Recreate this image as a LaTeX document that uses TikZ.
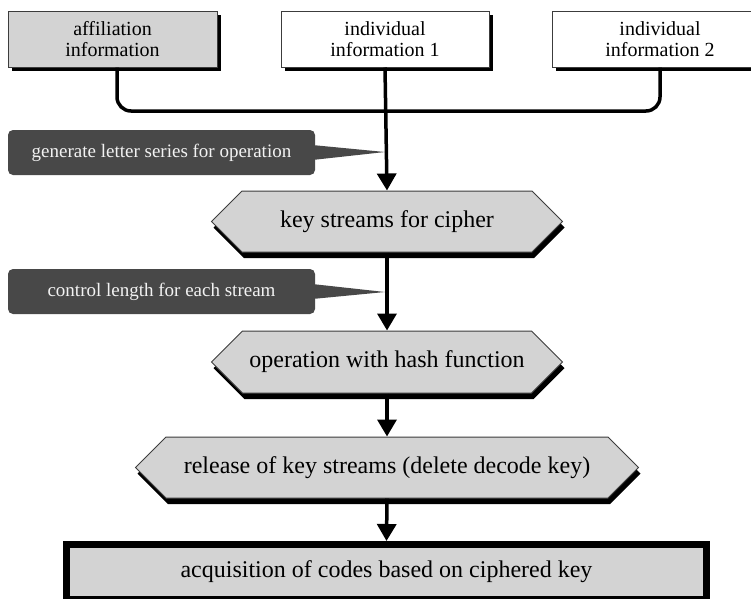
\documentclass[tikz,border=0pt]{standalone}
\usepackage{fontspec}
\setmainfont{Liberation Serif}
\usetikzlibrary{shapes.symbols,shadows,arrows.meta,calc}
\definecolor{boxgray}{RGB}{211,211,211}
\definecolor{calfill}{RGB}{72,72,72}
\definecolor{caltext}{RGB}{242,242,242}
\definecolor{edgegray}{RGB}{60,60,60}
\tikzset{
  topbox/.style={draw=edgegray, line width=1pt, minimum height=56pt, inner sep=0pt, align=center,
    font=\fontsize{20}{21.5}\selectfont,
    drop shadow={shadow xshift=4pt, shadow yshift=-4pt, fill=black, opacity=1}},
  hexbox/.style={signal, signal to=west and east, signal pointer angle=90, draw=edgegray, line width=1pt,
    fill=boxgray, minimum height=61pt, inner sep=0pt, font=\fontsize{24}{28}\selectfont,
    drop shadow={shadow xshift=2pt, shadow yshift=-6pt, fill=black, opacity=1}},
  callout/.style={fill=calfill, rounded corners=5pt, minimum width=307pt, minimum height=45pt, inner sep=0pt,
    text=caltext, font=\fontsize{19}{22}\selectfont},
  conn/.style={line width=3.5pt, black},
  arr/.style={conn, -{Triangle[width=19pt,length=17pt]}},
}
\begin{document}
\begin{tikzpicture}[x=1pt,y=-1pt]
\useasboundingbox (0,0) rectangle (751,598);
% top boxes
\node[topbox, fill=boxgray, minimum width=209pt] (aff) at (112.5,39) {affiliation\\information};
\node[topbox, fill=white, minimum width=208pt] (ind1) at (385,39) {individual\\information 1};
\node[topbox, fill=white, minimum width=216pt] (ind2) at (660,39) {individual\\information 2};
% joining line
\coordinate (j) at (387,111);
\draw[conn, rounded corners=14pt] ($(aff.south)+(4.5,0)$) |- (ind2.south |- j) -- (ind2.south);
% flow nodes
\node[hexbox, minimum width=351pt] (hex1) at (387,221.5) {key streams for cipher};
\node[hexbox, minimum width=351pt, minimum height=62pt] (hex2) at (387,362) {operation with hash function};
\node[hexbox, minimum width=503pt] (hex3) at (387,467.5) {release of key streams (delete decode key)};
\node[draw=black, line width=7pt, fill=boxgray, minimum width=640pt, minimum height=55pt, inner sep=0pt,
  font=\fontsize{24}{28}\selectfont] (fin) at (386.5,572) {acquisition of codes based on ciphered key};
% callouts
\node[callout] (cal1) at (161.5,152.5) {generate letter series for operation};
\node[callout] (cal2) at (161.5,291.5) {control length for each stream};
\coordinate (t1) at (385,152);
\coordinate (t2) at (385,292);
\fill[calfill] ($(cal1.east)+(-3,-7.5)$) -- (t1) -- ($(cal1.east)+(-3,7.5)$) -- cycle;
\fill[calfill] ($(cal2.east)+(-3,-7.5)$) -- (t2) -- ($(cal2.east)+(-3,7.5)$) -- cycle;
% arrows
\draw[arr] (ind1.south) -- (hex1.north);
\draw[arr] (hex1.south) -- (hex2.north);
\draw[arr] (hex2.south) -- (hex3.north);
\draw[arr] (hex3.south) -- (fin.north);
\end{tikzpicture}
\end{document}
